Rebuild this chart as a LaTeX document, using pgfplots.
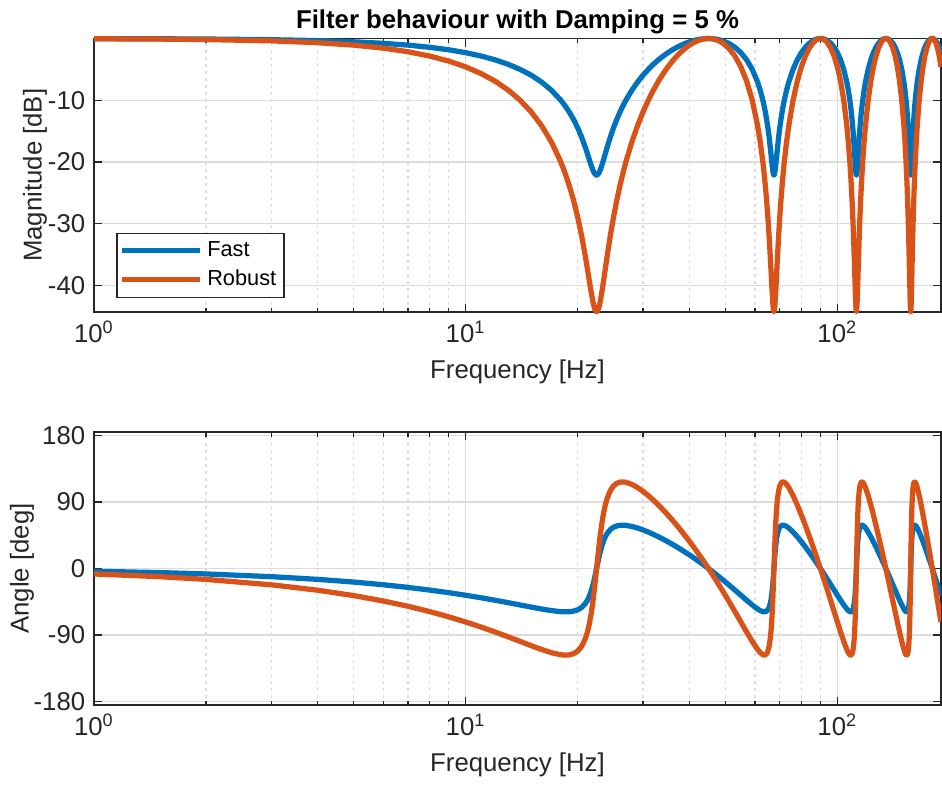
\documentclass[border=0pt]{standalone}
\usepackage{fontspec}
\setmainfont{Liberation Sans}
\usepackage{pgfplots}
\usepackage{pgfplotstable}
\pgfplotsset{compat=1.18}
\definecolor{fast}{HTML}{0072BD}
\definecolor{robust}{HTML}{D95319}
\definecolor{ax}{HTML}{262626}
\definecolor{grd}{HTML}{DCDCDC}

% f [Hz], magnitude [dB] and angle [deg] of the fast and robust filters
\pgfplotstableread{
f mF pF mR pR
1 -0.021 -3.69 -0.042 -7.38
1.5 -0.047 -5.53 -0.095 -11.06
2 -0.084 -7.37 -0.169 -14.74
3 -0.191 -11.05 -0.381 -22.09
4 -0.341 -14.71 -0.682 -29.42
5 -0.537 -18.37 -1.074 -36.74
6 -0.780 -22.00 -1.560 -44.00
7 -1.074 -25.61 -2.147 -51.22
8 -1.421 -29.19 -2.842 -58.38
9 -1.827 -32.74 -3.653 -65.48
10 -2.296 -36.24 -4.592 -72.48
11 -2.837 -39.67 -5.673 -79.34
12 -3.457 -43.03 -6.914 -86.06
13 -4.170 -46.27 -8.339 -92.54
14 -4.991 -49.37 -9.981 -98.74
15 -5.941 -52.27 -11.883 -104.54
16 -7.053 -54.87 -14.105 -109.74
17 -8.368 -57.02 -16.736 -114.04
18 -9.955 -58.44 -19.910 -116.88
18.5 -10.880 -58.71 -21.760 -117.42
19 -11.917 -58.54 -23.833 -117.08
19.5 -13.089 -57.75 -26.178 -115.50
20 -14.424 -56.03 -28.847 -112.06
20.5 -15.953 -52.85 -31.907 -105.70
21 -17.696 -47.28 -35.391 -94.56
21.25 -18.636 -43.14 -37.272 -86.28
21.5 -19.598 -37.73 -39.196 -75.46
21.75 -20.526 -30.76 -41.051 -61.52
22 -21.337 -22.01 -42.674 -44.02
22.125 -21.662 -16.97 -43.324 -33.94
22.25 -21.911 -11.55 -43.822 -23.10
22.375 -22.069 -5.85 -44.138 -11.70
22.5 -22.118 0 -44.237 0
22.625 -22.069 5.85 -44.138 11.70
22.75 -21.911 11.55 -43.822 23.10
22.875 -21.662 16.97 -43.324 33.94
23 -21.337 22.01 -42.674 44.02
23.25 -20.526 30.76 -41.051 61.52
23.5 -19.598 37.73 -39.196 75.46
23.75 -18.636 43.14 -37.272 86.28
24 -17.696 47.28 -35.391 94.56
24.5 -15.953 52.85 -31.907 105.70
25 -14.424 56.03 -28.847 112.06
25.5 -13.089 57.75 -26.178 115.50
26 -11.917 58.54 -23.833 117.08
26.5 -10.880 58.71 -21.760 117.42
27 -9.955 58.44 -19.910 116.88
28 -8.368 57.02 -16.736 114.04
29 -7.053 54.87 -14.105 109.74
30 -5.941 52.27 -11.883 104.54
31 -4.991 49.37 -9.981 98.74
32 -4.170 46.27 -8.339 92.54
33 -3.457 43.03 -6.914 86.06
34 -2.837 39.67 -5.673 79.34
35 -2.296 36.24 -4.592 72.48
36 -1.827 32.74 -3.653 65.48
37 -1.421 29.19 -2.842 58.38
38 -1.074 25.61 -2.147 51.22
39 -0.780 22.00 -1.560 44.00
40 -0.537 18.37 -1.074 36.74
41 -0.341 14.71 -0.682 29.42
42 -0.191 11.05 -0.381 22.09
43 -0.084 7.37 -0.169 14.74
44 -0.021 3.69 -0.042 7.38
45 0 0 0 0
46 -0.021 -3.69 -0.042 -7.38
47 -0.084 -7.37 -0.169 -14.74
48 -0.191 -11.05 -0.381 -22.09
49 -0.341 -14.71 -0.682 -29.42
51 -0.780 -22.00 -1.560 -44.00
53 -1.421 -29.19 -2.842 -58.38
55 -2.296 -36.24 -4.592 -72.48
57 -3.457 -43.03 -6.914 -86.06
59 -4.991 -49.37 -9.981 -98.74
61 -7.053 -54.87 -14.105 -109.74
62 -8.368 -57.02 -16.736 -114.04
63 -9.955 -58.44 -19.910 -116.88
63.5 -10.880 -58.71 -21.760 -117.42
64 -11.917 -58.54 -23.833 -117.08
64.5 -13.089 -57.75 -26.178 -115.50
65 -14.424 -56.03 -28.847 -112.06
65.5 -15.953 -52.85 -31.907 -105.70
66 -17.696 -47.28 -35.391 -94.56
66.25 -18.636 -43.14 -37.272 -86.28
66.5 -19.598 -37.73 -39.196 -75.46
66.75 -20.526 -30.76 -41.051 -61.52
67 -21.337 -22.01 -42.674 -44.02
67.125 -21.662 -16.97 -43.324 -33.94
67.25 -21.911 -11.55 -43.822 -23.10
67.375 -22.069 -5.85 -44.138 -11.70
67.5 -22.118 0 -44.237 0
67.625 -22.069 5.85 -44.138 11.70
67.75 -21.911 11.55 -43.822 23.10
67.875 -21.662 16.97 -43.324 33.94
68 -21.337 22.01 -42.674 44.02
68.25 -20.526 30.76 -41.051 61.52
68.5 -19.598 37.73 -39.196 75.46
68.75 -18.636 43.14 -37.272 86.28
69 -17.696 47.28 -35.391 94.56
69.5 -15.953 52.85 -31.907 105.70
70 -14.424 56.03 -28.847 112.06
70.5 -13.089 57.75 -26.178 115.50
71 -11.917 58.54 -23.833 117.08
71.5 -10.880 58.71 -21.760 117.42
72 -9.955 58.44 -19.910 116.88
73 -8.368 57.02 -16.736 114.04
74 -7.053 54.87 -14.105 109.74
76 -4.991 49.37 -9.981 98.74
78 -3.457 43.03 -6.914 86.06
80 -2.296 36.24 -4.592 72.48
82 -1.421 29.19 -2.842 58.38
84 -0.780 22.00 -1.560 44.00
86 -0.341 14.71 -0.682 29.42
87 -0.191 11.05 -0.381 22.09
88 -0.084 7.37 -0.169 14.74
89 -0.021 3.69 -0.042 7.38
90 0 0 0 0
91 -0.021 -3.69 -0.042 -7.38
92 -0.084 -7.37 -0.169 -14.74
93 -0.191 -11.05 -0.381 -22.09
94 -0.341 -14.71 -0.682 -29.42
96 -0.780 -22.00 -1.560 -44.00
98 -1.421 -29.19 -2.842 -58.38
100 -2.296 -36.24 -4.592 -72.48
102 -3.457 -43.03 -6.914 -86.06
104 -4.991 -49.37 -9.981 -98.74
106 -7.053 -54.87 -14.105 -109.74
107 -8.368 -57.02 -16.736 -114.04
108 -9.955 -58.44 -19.910 -116.88
108.5 -10.880 -58.71 -21.760 -117.42
109 -11.917 -58.54 -23.833 -117.08
109.5 -13.089 -57.75 -26.178 -115.50
110 -14.424 -56.03 -28.847 -112.06
110.5 -15.953 -52.85 -31.907 -105.70
111 -17.696 -47.28 -35.391 -94.56
111.25 -18.636 -43.14 -37.272 -86.28
111.5 -19.598 -37.73 -39.196 -75.46
111.75 -20.526 -30.76 -41.051 -61.52
112 -21.337 -22.01 -42.674 -44.02
112.125 -21.662 -16.97 -43.324 -33.94
112.25 -21.911 -11.55 -43.822 -23.10
112.375 -22.069 -5.85 -44.138 -11.70
112.5 -22.118 0 -44.237 0
112.625 -22.069 5.85 -44.138 11.70
112.75 -21.911 11.55 -43.822 23.10
112.875 -21.662 16.97 -43.324 33.94
113 -21.337 22.01 -42.674 44.02
113.25 -20.526 30.76 -41.051 61.52
113.5 -19.598 37.73 -39.196 75.46
113.75 -18.636 43.14 -37.272 86.28
114 -17.696 47.28 -35.391 94.56
114.5 -15.953 52.85 -31.907 105.70
115 -14.424 56.03 -28.847 112.06
115.5 -13.089 57.75 -26.178 115.50
116 -11.917 58.54 -23.833 117.08
116.5 -10.880 58.71 -21.760 117.42
117 -9.955 58.44 -19.910 116.88
118 -8.368 57.02 -16.736 114.04
119 -7.053 54.87 -14.105 109.74
121 -4.991 49.37 -9.981 98.74
123 -3.457 43.03 -6.914 86.06
125 -2.296 36.24 -4.592 72.48
127 -1.421 29.19 -2.842 58.38
129 -0.780 22.00 -1.560 44.00
131 -0.341 14.71 -0.682 29.42
132 -0.191 11.05 -0.381 22.09
133 -0.084 7.37 -0.169 14.74
134 -0.021 3.69 -0.042 7.38
135 0 0 0 0
136 -0.021 -3.69 -0.042 -7.38
137 -0.084 -7.37 -0.169 -14.74
138 -0.191 -11.05 -0.381 -22.09
139 -0.341 -14.71 -0.682 -29.42
141 -0.780 -22.00 -1.560 -44.00
143 -1.421 -29.19 -2.842 -58.38
145 -2.296 -36.24 -4.592 -72.48
147 -3.457 -43.03 -6.914 -86.06
149 -4.991 -49.37 -9.981 -98.74
151 -7.053 -54.87 -14.105 -109.74
152 -8.368 -57.02 -16.736 -114.04
153 -9.955 -58.44 -19.910 -116.88
153.5 -10.880 -58.71 -21.760 -117.42
154 -11.917 -58.54 -23.833 -117.08
154.5 -13.089 -57.75 -26.178 -115.50
155 -14.424 -56.03 -28.847 -112.06
155.5 -15.953 -52.85 -31.907 -105.70
156 -17.696 -47.28 -35.391 -94.56
156.25 -18.636 -43.14 -37.272 -86.28
156.5 -19.598 -37.73 -39.196 -75.46
156.75 -20.526 -30.76 -41.051 -61.52
157 -21.337 -22.01 -42.674 -44.02
157.125 -21.662 -16.97 -43.324 -33.94
157.25 -21.911 -11.55 -43.822 -23.10
157.375 -22.069 -5.85 -44.138 -11.70
157.5 -22.118 0 -44.237 0
157.625 -22.069 5.85 -44.138 11.70
157.75 -21.911 11.55 -43.822 23.10
157.875 -21.662 16.97 -43.324 33.94
158 -21.337 22.01 -42.674 44.02
158.25 -20.526 30.76 -41.051 61.52
158.5 -19.598 37.73 -39.196 75.46
158.75 -18.636 43.14 -37.272 86.28
159 -17.696 47.28 -35.391 94.56
159.5 -15.953 52.85 -31.907 105.70
160 -14.424 56.03 -28.847 112.06
160.5 -13.089 57.75 -26.178 115.50
161 -11.917 58.54 -23.833 117.08
161.5 -10.880 58.71 -21.760 117.42
162 -9.955 58.44 -19.910 116.88
163 -8.368 57.02 -16.736 114.04
164 -7.053 54.87 -14.105 109.74
166 -4.991 49.37 -9.981 98.74
168 -3.457 43.03 -6.914 86.06
170 -2.296 36.24 -4.592 72.48
172 -1.421 29.19 -2.842 58.38
174 -0.780 22.00 -1.560 44.00
176 -0.341 14.71 -0.682 29.42
177 -0.191 11.05 -0.381 22.09
178 -0.084 7.37 -0.169 14.74
179 -0.021 3.69 -0.042 7.38
180 0 0 0 0
181 -0.021 -3.69 -0.042 -7.38
182 -0.084 -7.37 -0.169 -14.74
183 -0.191 -11.05 -0.381 -22.09
184 -0.341 -14.71 -0.682 -29.42
186 -0.780 -22.00 -1.560 -44.00
188 -1.421 -29.19 -2.842 -58.38
190 -2.296 -36.24 -4.592 -72.48
}\filt

\pgfplotsset{
  every axis/.append style={
    scale only axis,
    width=338.8pt,
    xmin=1, xmax=190,
    xtick={1,10,100},
    xticklabels={10\textsuperscript{0},10\textsuperscript{1},10\textsuperscript{2}},
    grid=both,
    major grid style={grd, line width=0.5pt},
    minor grid style={grd, line width=0.5pt, dash pattern=on 1.2pt off 1.6pt},
    axis line style={ax, line width=0.6pt},
    tick style={ax, line width=0.5pt},
    major tick length=3.2pt, minor tick length=1.8pt,
    tick align=inside,
    tick label style={font=\fontsize{10.3}{12}\selectfont, color=ax},
    label style={font=\fontsize{10.3}{12}\selectfont, color=ax},
    xlabel={Frequency [Hz]},
  },
  every axis plot/.append style={line width=2.1pt, line join=round, mark=none},
}

\begin{document}
\begin{tikzpicture}
\path[use as bounding box] (-37.6pt,15.4pt) rectangle (339.2pt,-298.6pt);

\begin{semilogxaxis}[
  at={(0,0)}, anchor=north west,
  height=109.4pt,
  ymin=-44.3, ymax=0,
  ytick={-40,-30,-20,-10}, yticklabels={-40,-30,-20,-10},
  ylabel={Magnitude [dB]},
  ylabel style={at={(axis description cs:-0.0697,0.5)}, anchor=center},
  clip=false,
  title={\bfseries Filter behaviour with Damping = 5 \%},
  title style={font=\fontsize{10.3}{12}\selectfont, color=black, yshift=-7.6pt},
  legend cell align=left,
  legend style={at={(0.026,0.051)}, anchor=south west, draw=ax, line width=0.6pt,
    fill=white, font=\fontsize{8.7}{10}\selectfont, inner sep=1.1pt, row sep=0pt},
  legend image code/.code={\draw[#1, line width=2.1pt] (0pt,0pt) -- (31pt,0pt);},
]
\addplot[fast] table[x=f, y=mF] {\filt};
\addlegendentry{Fast}
\addplot[robust] table[x=f, y=mR] {\filt};
\addlegendentry{Robust}
\end{semilogxaxis}

\begin{semilogxaxis}[
  at={(0,-157.4pt)}, anchor=north west,
  height=109.2pt,
  ymin=-185, ymax=185,
  ytick={-180,-90,0,90,180}, yticklabels={-180,-90,0,90,180},
  ylabel={Angle [deg]},
  ylabel style={at={(axis description cs:-0.085,0.5)}, anchor=center},
]
\addplot[fast] table[x=f, y=pF] {\filt};
\addplot[robust] table[x=f, y=pR] {\filt};
\end{semilogxaxis}
\end{tikzpicture}
\end{document}
